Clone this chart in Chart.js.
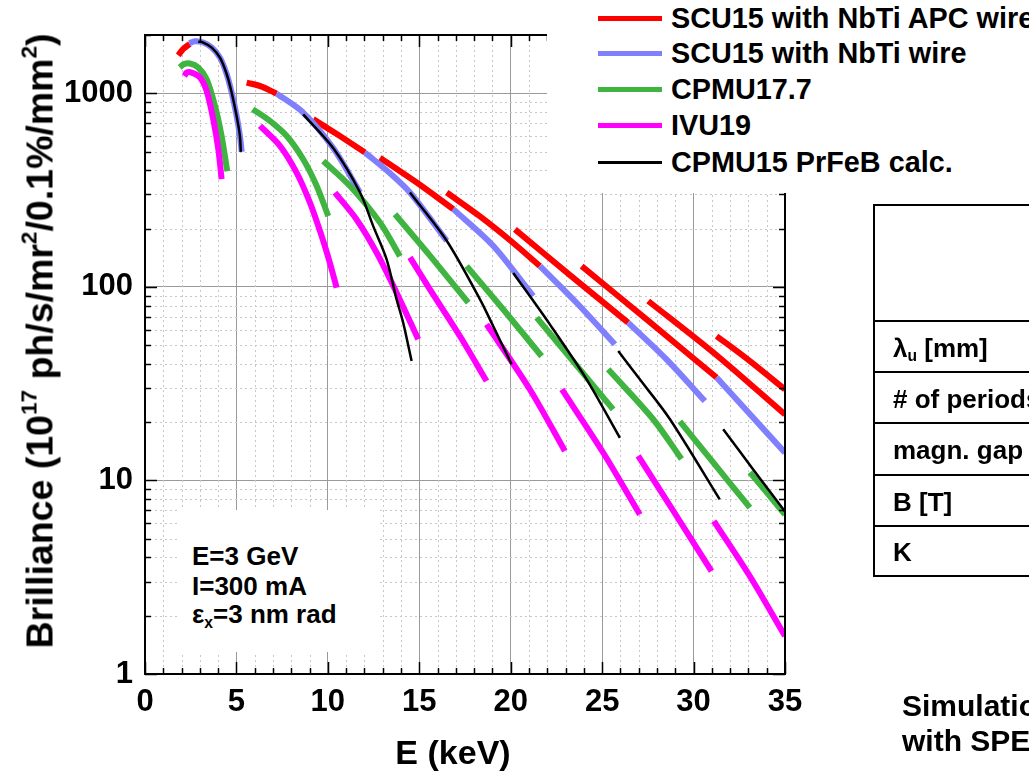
<!DOCTYPE html>
<html>
<head>
<meta charset="utf-8">
<script src="https://cdn.jsdelivr.net/npm/chart.js@4.4.1/dist/chart.umd.min.js"></script>
<style>
  html, body { margin: 0; padding: 0; background: #fff; overflow: hidden; }
  #wrap { position: relative; width: 1029px; height: 777px; overflow: hidden; font-family: "Liberation Sans", Arial, sans-serif; font-weight: bold; color: #000; }
  #c { position: absolute; left: 0; top: 0; }
  .abs { position: absolute; white-space: nowrap; }
  #legend { left: 547px; top: 0; width: 482px; height: 193px; background: #fff; }
  .lg-line { position: absolute; left: 51px; width: 64px; }
  .lg-text { position: absolute; left: 124px; font-size: 28.8px; line-height: 30px; }
  #ytitle { left: 40px; top: 341px; font-size: 37.5px; transform: translate(-50%, -50%) rotate(-90deg); }
  #ytitle sup { font-size: 60%; vertical-align: 0.7em; line-height: 0; }
  #xtitle { left: 453px; top: 752px; font-size: 34px; transform: translate(-50%, -50%); }
  #note { left: 180px; top: 510px; width: 198px; height: 142px; background: #fff; font-size: 26px; }
  #note div { position: absolute; left: 12px; }
  #note sub, #table sub { font-size: 60%; vertical-align: -0.3em; line-height: 0; }
  #table { left: 873px; top: 204px; width: 300px; height: 373px; border: 2px solid #000; box-sizing: border-box; font-size: 26px; }
  .row { position: absolute; left: 0; right: 0; border-top: 2px solid #000; }
  .row span { position: absolute; left: 18px; top: 50%; transform: translateY(-50%); }
  #sim { left: 902px; top: 688px; font-size: 30px; line-height: 35px; }
</style>
</head>
<body>
<div id="wrap">
  <canvas id="c" width="1029" height="777"></canvas>

  <div id="ytitle" class="abs">Brilliance (10<sup>17</sup> ph/s/mr<sup>2</sup>/0.1%/mm<sup>2</sup>)</div>
  <div id="xtitle" class="abs">E (keV)</div>

  <div id="legend" class="abs"></div>

  <div id="note" class="abs">
    <div style="top:31px">E=3 GeV</div>
    <div style="top:61px">I=300 mA</div>
    <div style="top:89px">&epsilon;<sub>x</sub>=3 nm rad</div>
  </div>

  <div id="table" class="abs">
    <div class="row" style="top:114px;height:51px"><span>&lambda;<sub>u</sub> [mm]</span></div>
    <div class="row" style="top:165px;height:51px"><span># of periods</span></div>
    <div class="row" style="top:216px;height:52px"><span>magn. gap [mm]</span></div>
    <div class="row" style="top:268px;height:51px"><span>B [T]</span></div>
    <div class="row" style="top:319px;height:50px"><span>K</span></div>
  </div>

  <div id="sim" class="abs">Simulation<br>with SPECTRA</div>
</div>

<script>
// axes
const xTicks = [0, 5, 10, 15, 20, 25, 30, 35];
const yTicks = [1, 10, 100, 1000];

// tuning curves, one small array per harmonic: [E keV, brilliance]
const scuApc = [
  [[1.82, 1570], [2.08, 1690], [2.45, 1800]],
  [[5.56, 1135], [6.38, 1083], [7.20, 996]],
  [[9.20, 735], [10.66, 601], [12.03, 494]],
  [[12.85, 465], [14.86, 346], [16.86, 252]],
  [[16.50, 307], [18.32, 231], [19.96, 174], [21.60, 128]],
  [[20.23, 198], [23.24, 115], [26.42, 65.3]],
  [[23.88, 128], [27.43, 67.9], [31.26, 34.0]],
  [[27.52, 84.5], [31.26, 44.3], [35.0, 21.9]],
  [[31.26, 55.7], [33.10, 41.2], [35.0, 29.5]]
];

const scuNbTi = [
  [[2.42, 1811], [2.73, 1857], [3.19, 1828], [3.65, 1722], [4.10, 1528], [4.47, 1254], [4.74, 1008], [5.01, 764], [5.19, 603], [5.29, 498]],
  [[7.20, 996], [8.65, 795], [10.30, 520], [11.76, 307]],
  [[12.03, 494], [13.40, 386], [14.49, 307], [16.50, 173]],
  [[16.86, 252], [19.04, 163], [21.23, 89.6]],
  [[21.60, 128], [23.60, 82.8], [25.70, 50.5]],
  [[26.42, 65.3], [28.52, 42.2], [30.62, 25.7]],
  [[31.26, 34.0], [33.10, 21.9], [35.0, 13.9]]
];

const cpmu177 = [
  [[1.90, 1360], [2.10, 1410], [2.45, 1425], [2.91, 1358], [3.37, 1181], [3.83, 859], [4.19, 601], [4.50, 396]],
  [[5.89, 827], [6.83, 720], [7.75, 601], [8.65, 456], [9.39, 332], [10.02, 232]],
  [[9.75, 447], [11.21, 332], [12.85, 215], [13.94, 144]],
  [[13.67, 237], [15.58, 145], [17.68, 82.8]],
  [[17.59, 128], [19.63, 75.7], [21.69, 43.8]],
  [[21.42, 69.3], [23.78, 37.5], [25.60, 23.3]],
  [[25.33, 37.5], [27.79, 20.7], [29.34, 12.9]],
  [[29.25, 20.2], [31.16, 12.1], [33.08, 7.23]],
  [[33.08, 11.0], [35.0, 6.67]]
];

const ivu19 = [
  [[2.15, 1228], [2.28, 1279], [2.55, 1279], [3.01, 1205], [3.37, 1028], [3.73, 735], [4.01, 514], [4.19, 360]],
  [[6.29, 678], [7.38, 535], [8.29, 389], [9.02, 272], [9.66, 183], [10.11, 133], [10.48, 99]],
  [[10.39, 307], [11.57, 223], [12.67, 150], [13.76, 93.3], [14.94, 53.6]],
  [[14.49, 142], [15.58, 97.1], [17.22, 55.7], [18.68, 32.6]],
  [[18.68, 64.0], [21.05, 29.5], [22.96, 14.2]],
  [[22.80, 29.5], [25.06, 13.9], [27.06, 6.67]],
  [[26.97, 13.4], [29.07, 6.55], [30.98, 3.40]],
  [[31.11, 6.17], [33.08, 3.20], [35.0, 1.57]]
];

const cpmu15 = [
  [[2.91, 1848], [3.19, 1828], [3.65, 1722], [4.10, 1528], [4.47, 1254], [4.74, 1008], [5.01, 764], [5.19, 603], [5.24, 498]],
  [[8.65, 778], [10.30, 520], [11.76, 307], [12.48, 206], [13.21, 139], [13.76, 86.1], [14.12, 65.3], [14.58, 41.4]],
  [[14.49, 307], [16.50, 173], [18.32, 86.1], [19.04, 62.7], [20.05, 39.8]],
  [[20.14, 118], [22.14, 64.0], [24.15, 33.3], [25.97, 16.6]],
  [[25.88, 46.6], [27.06, 33.3], [28.71, 20.7], [31.43, 7.98]],
  [[31.62, 18.4], [33.26, 11.4], [35.0, 6.9]]
];

const series = [
  { label: 'SCU15 with NbTi APC wire', segs: scuApc, color: '#ff0000', width: 6, order: 4 },
  { label: 'SCU15 with NbTi wire', segs: scuNbTi, color: '#8080ff', width: 6, order: 3 },
  { label: 'CPMU17.7', segs: cpmu177, color: '#40b440', width: 6, order: 2 },
  { label: 'IVU19', segs: ivu19, color: '#ff00ff', width: 6, order: 1 },
  { label: 'CPMU15 PrFeB calc.', segs: cpmu15, color: '#000000', width: 2.5, order: 0 }
];

// legend (html, sits on a white patch over the plot corner)
const legendEl = document.getElementById('legend');
const rowY = [18, 53, 89, 125, 162];
series.forEach((s, i) => {
  const h = s.width > 3 ? 5 : 3;
  legendEl.insertAdjacentHTML('beforeend',
    `<div class="lg-line" style="top:${rowY[i] - h / 2}px;height:${h}px;background:${s.color}"></div>` +
    `<div class="lg-text" style="top:${rowY[i] - 15}px">${s.label}</div>`);
});

// minor grid values
const minorY = [];
yTicks.forEach(d => { for (let k = 2; k <= 9; k++) if (k * d <= 2000) minorY.push(k * d); });

// dotted minor grid + inward ticks and box frame
const frameTicks = {
  id: 'frameTicks',
  beforeDatasetsDraw(chart) {
    const { ctx, chartArea: a, scales: { x, y } } = chart;
    ctx.save();
    ctx.strokeStyle = '#c8c8c8';
    ctx.lineWidth = 1;
    ctx.setLineDash([2, 3]);
    ctx.beginPath();
    for (let e = 1; e < 35; e++) {
      if (e % 5 === 0) continue;
      const px = Math.round(x.getPixelForValue(e)) + 0.5;
      ctx.moveTo(px, a.top);
      ctx.lineTo(px, a.bottom);
    }
    minorY.forEach(v => {
      const py = Math.round(y.getPixelForValue(v)) + 0.5;
      ctx.moveTo(a.left, py);
      ctx.lineTo(a.right, py);
    });
    ctx.stroke();
    ctx.restore();
  },
  afterDatasetsDraw(chart) {
    const { ctx, chartArea: a, scales: { x, y } } = chart;
    ctx.save();
    ctx.strokeStyle = '#000';
    ctx.lineWidth = 1.5;
    ctx.beginPath();
    for (let e = 0; e <= 35; e++) {
      const px = Math.round(x.getPixelForValue(e)) + 0.5;
      const len = e % 5 ? 6 : 12;
      ctx.moveTo(px, a.bottom); ctx.lineTo(px, a.bottom - len);
      ctx.moveTo(px, a.top); ctx.lineTo(px, a.top + len);
    }
    yTicks.concat(minorY).forEach(v => {
      const py = Math.round(y.getPixelForValue(v)) + 0.5;
      const len = yTicks.includes(v) ? 12 : 6;
      ctx.moveTo(a.left, py); ctx.lineTo(a.left + len, py);
      ctx.moveTo(a.right, py); ctx.lineTo(a.right - len, py);
    });
    ctx.stroke();
    ctx.lineWidth = 2;
    ctx.strokeRect(a.left, a.top, a.right - a.left, a.bottom - a.top);
    ctx.restore();
  }
};

Chart.defaults.font.family = '"Liberation Sans", Arial, sans-serif';
Chart.defaults.font.weight = 'bold';
Chart.defaults.color = '#000';

const datasets = [];
series.forEach(s => {
  s.segs.forEach(seg => {
    datasets.push({
      label: s.label,
      data: seg.map(([e, b]) => ({ x: e, y: b })),
      borderColor: s.color,
      borderWidth: s.width,
      borderCapStyle: 'butt',
      pointRadius: 0,
      tension: 0.3,
      fill: false,
      order: s.order
    });
  });
});

new Chart(document.getElementById('c'), {
  type: 'line',
  data: { datasets },
  options: {
    responsive: false,
    animation: false,
    layout: { padding: { left: 0, top: 35, right: 244, bottom: 0 } },
    plugins: { legend: { display: false }, tooltip: { enabled: false } },
    scales: {
      x: {
        type: 'linear',
        min: 0,
        max: 35,
        afterBuildTicks: s => { s.ticks = xTicks.map(v => ({ value: v })); },
        afterFit: s => { s.height = 103; },
        ticks: { font: { size: 31, weight: 'bold' }, padding: 10, maxRotation: 0 },
        grid: { color: '#9a9a9a', lineWidth: 1, drawTicks: false },
        border: { display: false }
      },
      y: {
        type: 'logarithmic',
        min: 1,
        max: 2000,
        afterBuildTicks: s => { s.ticks = yTicks.map(v => ({ value: v })); },
        afterFit: s => { s.width = 145; },
        ticks: { font: { size: 31, weight: 'bold' }, padding: 12, callback: v => String(v) },
        grid: { color: '#9a9a9a', lineWidth: 1, drawTicks: false },
        border: { display: false }
      }
    }
  },
  plugins: [frameTicks]
});
</script>
</body>
</html>
